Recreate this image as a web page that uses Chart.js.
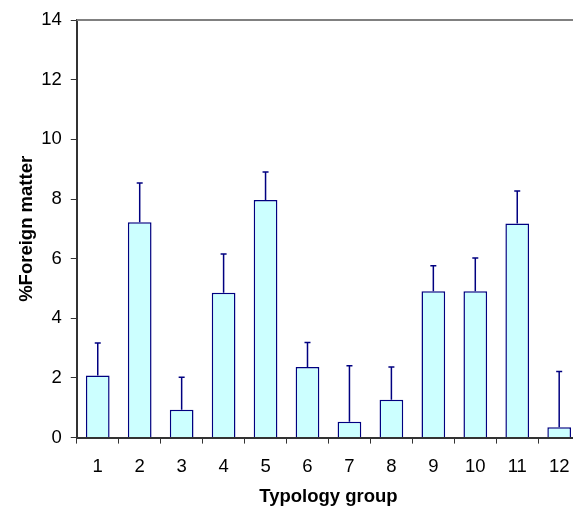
<!DOCTYPE html>
<html>
<head>
<meta charset="utf-8">
<script src="https://cdn.jsdelivr.net/npm/chart.js@4/dist/chart.umd.min.js"></script>
<style>
    html, body { margin: 0; padding: 0; background: #fff; overflow: hidden; }
    #wrap { position: relative; width: 582px; height: 508px; }
</style>
</head>
<body>
<div id="wrap"><canvas id="chart"></canvas></div>
<script>
// Typology groups and % foreign matter (mean + upper error)
const groups = ['1', '2', '3', '4', '5', '6', '7', '8', '9', '10', '11', '12'];
const foreignMatter = [2.08, 7.22, 0.93, 4.86, 7.97, 2.37, 0.53, 1.27, 4.91, 4.91, 7.18, 0.35];
const errorUp = [1.09, 1.32, 1.09, 1.30, 0.94, 0.82, 1.88, 1.10, 0.85, 1.11, 1.09, 1.87];
const yTicks = [0, 2, 4, 6, 8, 10, 12, 14];

const FONT = "'Liberation Sans', Arial, sans-serif";
const NAVY = '#000080';

// draws the upward error bars and the grey frame line on top
const errorBars = {
    id: 'errorBars',
    afterDatasetsDraw(chart) {
        const ctx = chart.ctx;
        const y = chart.scales.y;
        const area = chart.chartArea;
        ctx.save();
        ctx.strokeStyle = '#808080';
        ctx.lineWidth = 2;
        ctx.beginPath();
        ctx.moveTo(area.left, area.top);
        ctx.lineTo(area.right, area.top);
        ctx.stroke();

        ctx.strokeStyle = NAVY;
        ctx.lineWidth = 1.5;
        chart.getDatasetMeta(0).data.forEach((bar, i) => {
            const yTop = y.getPixelForValue(foreignMatter[i] + errorUp[i]);
            ctx.beginPath();
            ctx.moveTo(bar.x, bar.y);
            ctx.lineTo(bar.x, yTop);
            ctx.moveTo(bar.x - 3, yTop);
            ctx.lineTo(bar.x + 3, yTop);
            ctx.stroke();
        });
        ctx.restore();
    }
};

new Chart(document.getElementById('chart'), {
    type: 'bar',
    data: {
        labels: groups,
        datasets: [{
            data: foreignMatter,
            backgroundColor: '#CCFFFF',
            borderColor: NAVY,
            borderWidth: 1.5,
            barPercentage: 0.565,
            categoryPercentage: 1
        }]
    },
    options: {
        responsive: true,
        maintainAspectRatio: false,
        animation: false,
        layout: { padding: { top: 9, right: 0.5, left: 16, bottom: 0 } },
        plugins: {
            legend: { display: false },
            tooltip: { enabled: false }
        },
        scales: {
            x: {
                grid: { drawOnChartArea: false, drawTicks: true, tickLength: 6, color: '#333', offset: true },
                border: { color: '#333', width: 2 },
                ticks: { color: '#000', font: { family: FONT, size: 18.5 }, padding: 12.5 },
                title: {
                    display: true, text: 'Typology group', color: '#000',
                    font: { family: FONT, size: 18.5, weight: 'bold' }, padding: { top: -5, bottom: 0 }
                }
            },
            y: {
                min: 0, max: 14,
                afterBuildTicks: axis => { axis.ticks = yTicks.map(v => ({ value: v })); },
                grid: { drawOnChartArea: false, drawTicks: true, tickLength: 6, color: '#333' },
                border: { color: '#333', width: 2 },
                ticks: { color: '#000', font: { family: FONT, size: 18.5 }, padding: 9 },
                title: {
                    display: true, text: '%Foreign matter', color: '#000',
                    font: { family: FONT, size: 18.5, weight: 'bold' }, padding: { top: 0, bottom: -6 }
                }
            }
        }
    },
    plugins: [errorBars]
});
</script>
</body>
</html>
